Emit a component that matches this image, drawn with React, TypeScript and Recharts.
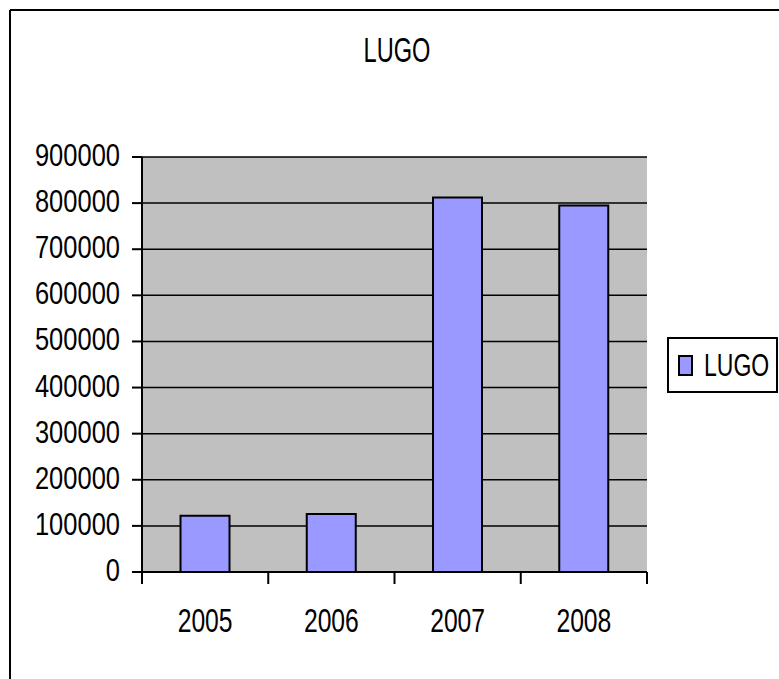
import { Bar, BarChart, CartesianGrid, Legend, XAxis, YAxis } from "recharts";

const years = ["2005", "2006", "2007", "2008"];
const lugoValues = [122000, 126000, 812000, 795000];
const yTicks = [0, 100000, 200000, 300000, 400000, 500000, 600000, 700000, 800000, 900000];

const data = years.map((year, i) => ({ year, LUGO: lugoValues[i] }));

const W = 779;
const H = 679;
const PLOT_LEFT = 142;
const PLOT_RIGHT = 647;
const PLOT_TOP = 157;
const PLOT_BOTTOM = 572;
const HALF_BAND = (PLOT_RIGHT - PLOT_LEFT) / years.length / 2;
const FONT = "'Liberation Sans', Arial, sans-serif";

const YTick = ({ x, y, payload }: any) => (
  <text
    transform={`translate(${x},${y + 9}) scale(1,1.2)`}
    textAnchor="end"
    fontSize={25.5}
    fontFamily={FONT}
    fill="#000"
  >
    {payload.value}
  </text>
);

const XTick = ({ x, payload, index }: any) => (
  <g>
    <line x1={x - HALF_BAND} x2={x - HALF_BAND} y1={PLOT_BOTTOM} y2={PLOT_BOTTOM + 12} stroke="#000" strokeWidth={2} />
    {index === years.length - 1 && (
      <line x1={x + HALF_BAND} x2={x + HALF_BAND} y1={PLOT_BOTTOM} y2={PLOT_BOTTOM + 12} stroke="#000" strokeWidth={2} />
    )}
    <text
      transform={`translate(${x},632) scale(1,1.36)`}
      textAnchor="middle"
      fontSize={24.7}
      fontFamily={FONT}
      fill="#000"
    >
      {payload.value}
    </text>
  </g>
);

const LegendBox = () => (
  <div
    style={{
      boxSizing: "border-box",
      width: 111,
      height: 56,
      border: "2px solid #000",
      background: "#fff",
      display: "flex",
      alignItems: "center",
      paddingLeft: 9,
    }}
  >
    <div
      style={{
        boxSizing: "border-box",
        width: 15,
        height: 21,
        background: "#9999FF",
        border: "2px solid #000",
        marginRight: 11,
      }}
    />
    <span
      style={{
        fontFamily: FONT,
        fontSize: 23,
        display: "inline-block",
        transform: "scale(1,1.34)",
        lineHeight: 1,
      }}
    >
      LUGO
    </span>
  </div>
);

export default function App() {
  return (
    <div style={{ position: "absolute", left: 0, top: 0, width: W, height: H, overflow: "hidden", background: "#fff" }}>
      <BarChart
        width={W}
        height={H}
        data={data}
        margin={{ top: PLOT_TOP, right: W - PLOT_RIGHT, bottom: H - PLOT_BOTTOM - 60, left: PLOT_LEFT - 130 }}
        barCategoryGap="30.5%"
      >
        <CartesianGrid vertical={false} fill="#C0C0C0" stroke="#000" strokeWidth={1.5} strokeOpacity={1} />
        <XAxis
          dataKey="year"
          height={60}
          tickLine={false}
          axisLine={{ stroke: "#000", strokeWidth: 2 }}
          tick={<XTick />}
          interval={0}
        />
        <YAxis
          width={130}
          domain={[0, 900000]}
          ticks={yTicks}
          interval={0}
          tickSize={10}
          tickMargin={12}
          tickLine={{ stroke: "#000", strokeWidth: 2 }}
          axisLine={{ stroke: "#000", strokeWidth: 2 }}
          tick={<YTick />}
        />
        <Legend
          align="center"
          verticalAlign="middle"
          content={<LegendBox />}
          wrapperStyle={{ position: "absolute", left: 667, top: 337, width: 111, height: 56 }}
        />
        <Bar dataKey="LUGO" fill="#9999FF" stroke="#000" strokeWidth={2} isAnimationActive={false} />
      </BarChart>
      <svg width={W} height={H} style={{ position: "absolute", left: 0, top: 0, pointerEvents: "none" }}>
        <line x1={10} y1={10} x2={W} y2={10} stroke="#000" strokeWidth={2} />
        <line x1={10} y1={10} x2={10} y2={H} stroke="#000" strokeWidth={2} />
        <text
          transform="translate(397,62) scale(1,1.45)"
          textAnchor="middle"
          fontSize={23.6}
          fontFamily={FONT}
          fill="#000"
        >
          LUGO
        </text>
      </svg>
    </div>
  );
}
